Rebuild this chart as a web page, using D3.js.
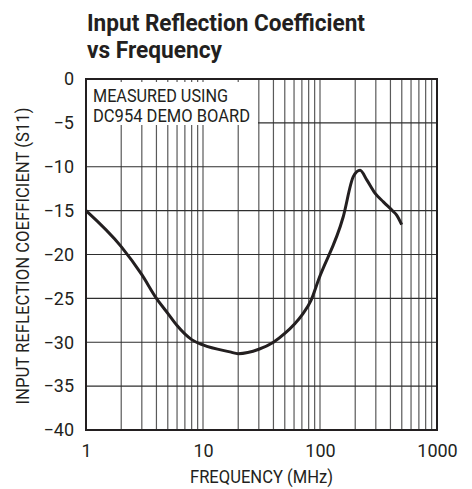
<!DOCTYPE html>
<html>
  <head>
    <meta charset="utf-8">
    <title>Input Reflection Coefficient vs Frequency</title>
    <script src="https://d3js.org/d3.v7.min.js"></script>
    <style>
      body { margin: 0; background: white; }
      text { font-family: Roboto, "Liberation Sans", sans-serif; fill: #231f20; }
    </style>
  </head>
  <body>
    <svg id="chart" width="472" height="489"></svg>
    <script>
      // data
      freqMHz = [1, 2, 3, 4, 5, 6, 8, 10, 17, 20, 30, 40, 50, 70, 84, 97, 158, 193, 220, 251, 295, 348, 423, 452, 499];
      s11dB = [-15, -19.1, -22.3, -25.0, -26.7, -28.1, -29.7, -30.3, -31.1, -31.3, -30.8, -30.0, -29.0, -26.9, -25.2, -22.9, -15.7, -11.1, -10.4, -11.5, -13.0, -14.0, -15.1, -15.5, -16.6];
      xTicks = [1, 10, 100, 1000];
      yTicks = [0, -5, -10, -15, -20, -25, -30, -35, -40];
      titleLines = ["Input Reflection Coefficient", "vs Frequency"];
      noteLines = ["MEASURED USING", "DC954 DEMO BOARD"];

      svg = d3.select("#chart");
      margin = { left: 86, right: 35, top: 79, bottom: 59 };
      width = 472 - margin.left - margin.right;
      height = 489 - margin.top - margin.bottom;

      x = d3.scaleLog().domain([1, 1000]).range([margin.left, margin.left + width]);
      y = d3.scaleLinear().domain([-40, 0]).range([margin.top + height, margin.top]);

      // title (condensed face squeezed to the original width)
      svg.append("g")
        .selectAll("text")
          .data(titleLines)
        .enter().append("text")
          .attr("x", 87)
          .attr("y", function(d, i) { return 31 + i * 27; })
          .attr("textLength", function(d, i) { return i ? 135 : 278; })
          .attr("lengthAdjust", "spacingAndGlyphs")
          .style("font-size", "24px")
          .style("font-weight", "bold")
          .text(function(d) { return d; });

      // grid
      minor = [];
      [1, 10, 100].forEach(function(dec) {
        for (let k = 2; k <= 9; k++) minor.push(dec * k);
      });
      minor.push(10, 100);
      svg.append("g")
        .selectAll("line")
          .data(minor)
        .enter().append("line")
          .attr("x1", function(d) { return x(d); })
          .attr("x2", function(d) { return x(d); })
          .attr("y1", margin.top)
          .attr("y2", margin.top + height)
          .attr("stroke", "#5a5a5a")
          .attr("stroke-width", 1.2);
      svg.append("g")
        .selectAll("line")
          .data(yTicks.slice(1, -1))
        .enter().append("line")
          .attr("x1", margin.left)
          .attr("x2", margin.left + width)
          .attr("y1", function(d) { return y(d); })
          .attr("y2", function(d) { return y(d); })
          .attr("stroke", "#2e2e2e")
          .attr("stroke-width", 1.2);

      // note box
      svg.append("rect")
        .attr("x", margin.left + 1)
        .attr("y", margin.top + 3)
        .attr("width", 171)
        .attr("height", 43)
        .attr("fill", "white");
      svg.append("g")
        .selectAll("text")
          .data(noteLines)
        .enter().append("text")
          .attr("x", 93)
          .attr("y", function(d, i) { return 102 + i * 20; })
          .attr("textLength", function(d, i) { return i ? 157 : 135; })
          .attr("lengthAdjust", "spacingAndGlyphs")
          .style("font-size", "18px")
          .text(function(d) { return d; });

      // frame
      svg.append("rect")
        .attr("x", margin.left)
        .attr("y", margin.top)
        .attr("width", width)
        .attr("height", height)
        .attr("fill", "none")
        .attr("stroke", "#231f20")
        .attr("stroke-width", 2);

      // curve
      line = d3.line()
        .x(function(d, i) { return x(freqMHz[i]); })
        .y(function(d) { return y(d); })
        .curve(d3.curveMonotoneX);
      svg.append("path")
        .datum(s11dB)
        .attr("d", line)
        .attr("fill", "none")
        .attr("stroke", "#231f20")
        .attr("stroke-width", 3)
        .attr("stroke-linejoin", "round");

      // axes
      yAxis = d3.axisLeft(y).tickValues(yTicks).tickSize(0).tickPadding(12)
        .tickFormat(function(d) { return d < 0 ? "\u2212" + Math.abs(d) : d; });
      svg.append("g")
        .attr("transform", "translate(" + margin.left + ",0)")
        .call(yAxis)
        .call(function(g) { g.select(".domain").remove(); })
        .selectAll("text")
          .style("font-size", "18px")
          .attr("fill", "#231f20");
      xAxis = d3.axisBottom(x).tickValues(xTicks).tickSize(0).tickPadding(14)
        .tickFormat(d3.format("d"));
      svg.append("g")
        .attr("transform", "translate(0," + (margin.top + height) + ")")
        .call(xAxis)
        .call(function(g) { g.select(".domain").remove(); })
        .selectAll("text")
          .style("font-size", "18px")
          .attr("fill", "#231f20");

      // axis titles
      svg.append("text")
        .attr("x", margin.left + width / 2)
        .attr("y", 483)
        .attr("text-anchor", "middle")
        .attr("textLength", 143)
        .attr("lengthAdjust", "spacingAndGlyphs")
        .style("font-size", "18px")
        .text("FREQUENCY (MHz)");
      svg.append("text")
        .attr("transform", "translate(29,256) rotate(-90)")
        .attr("text-anchor", "middle")
        .attr("textLength", 297)
        .attr("lengthAdjust", "spacingAndGlyphs")
        .style("font-size", "18px")
        .text("INPUT REFLECTION COEFFICIENT (S11)");
    </script>
  </body>
</html>
